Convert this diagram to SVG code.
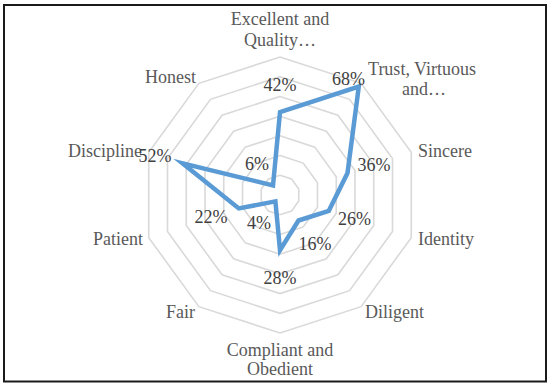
<svg xmlns="http://www.w3.org/2000/svg" width="550" height="383" viewBox="0 0 550 383">
<style>
.grid{fill:none;stroke:#d9d9d9;stroke-width:1.6}
.cat{font-family:"Liberation Serif","Times New Roman",serif;font-size:18px;fill:#595959}
.val{font-family:"Liberation Serif","Times New Roman",serif;font-size:18px;fill:#404040;text-anchor:middle}
.series{fill:none;stroke:#5b9bd5;stroke-width:4.5;stroke-linejoin:miter;stroke-miterlimit:10}
</style>
<rect x="0" y="0" width="550" height="383" fill="#ffffff"/>
<rect x="4" y="5" width="542" height="376.5" fill="none" stroke="#1a1a1a" stroke-width="2"/>
<g id="grid">
<polygon class="grid" points="280,175.29 291.59,179.05 298.75,188.91 298.75,201.09 291.59,210.95 280,214.71 268.41,210.95 261.25,201.09 261.25,188.91 268.41,179.05"/>
<polygon class="grid" points="280,155.57 303.18,163.10 317.50,182.82 317.50,207.18 303.18,226.90 280,234.43 256.82,226.90 242.50,207.18 242.50,182.82 256.82,163.10"/>
<polygon class="grid" points="280,135.86 314.76,147.15 336.25,176.72 336.25,213.28 314.76,242.85 280,254.14 245.24,242.85 223.75,213.28 223.75,176.72 245.24,147.15"/>
<polygon class="grid" points="280,116.14 326.35,131.20 355.00,170.63 355.00,219.37 326.35,258.80 280,273.86 233.65,258.80 205.00,219.37 205.00,170.63 233.65,131.20"/>
<polygon class="grid" points="280,96.43 337.94,115.26 373.75,164.54 373.75,225.46 337.94,274.74 280,293.57 222.06,274.74 186.25,225.46 186.25,164.54 222.06,115.26"/>
<polygon class="grid" points="280,76.71 349.53,99.31 392.50,158.45 392.50,231.55 349.53,290.69 280,313.29 210.47,290.69 167.50,231.55 167.50,158.45 210.47,99.31"/>
<polygon class="grid" points="280,57 361.12,83.36 411.25,152.36 411.25,237.64 361.12,306.64 280,333 198.88,306.64 148.75,237.64 148.75,152.36 198.88,83.36"/>
</g>
<g id="series">
<polygon class="series" points="280,112.2 358.8,86.5 347.5,173.1 328.8,210.8 298.5,220.5 280,250.2 275.4,201.4 238.8,208.4 182.5,163.3 273,185.4"/>
</g>
<g id="categories">
<text class="cat" x="280" y="25" text-anchor="middle">Excellent and</text>
<text class="cat" x="280" y="46" text-anchor="middle">Quality…</text>
<text class="cat" x="422" y="75" text-anchor="middle">Trust, Virtuous</text>
<text class="cat" x="424" y="95" text-anchor="middle">and…</text>
<text class="cat" x="418" y="157">Sincere</text>
<text class="cat" x="418" y="245">Identity</text>
<text class="cat" x="365" y="318">Diligent</text>
<text class="cat" x="280" y="356" text-anchor="middle">Compliant and</text>
<text class="cat" x="280" y="375" text-anchor="middle">Obedient</text>
<text class="cat" x="195" y="318" text-anchor="end">Fair</text>
<text class="cat" x="143" y="245" text-anchor="end">Patient</text>
<text class="cat" x="142" y="157" text-anchor="end">Discipline</text>
<text class="cat" x="196" y="83" text-anchor="end">Honest</text>
</g>
<g id="values">
<text class="val" x="280" y="91">42%</text>
<text class="val" x="348.5" y="85">68%</text>
<text class="val" x="374" y="171">36%</text>
<text class="val" x="354.5" y="225">26%</text>
<text class="val" x="315" y="250">16%</text>
<text class="val" x="280" y="284">28%</text>
<text class="val" x="259" y="229">4%</text>
<text class="val" x="211" y="223">22%</text>
<text class="val" x="155" y="162">52%</text>
<text class="val" x="257" y="170">6%</text>
</g>
</svg>
